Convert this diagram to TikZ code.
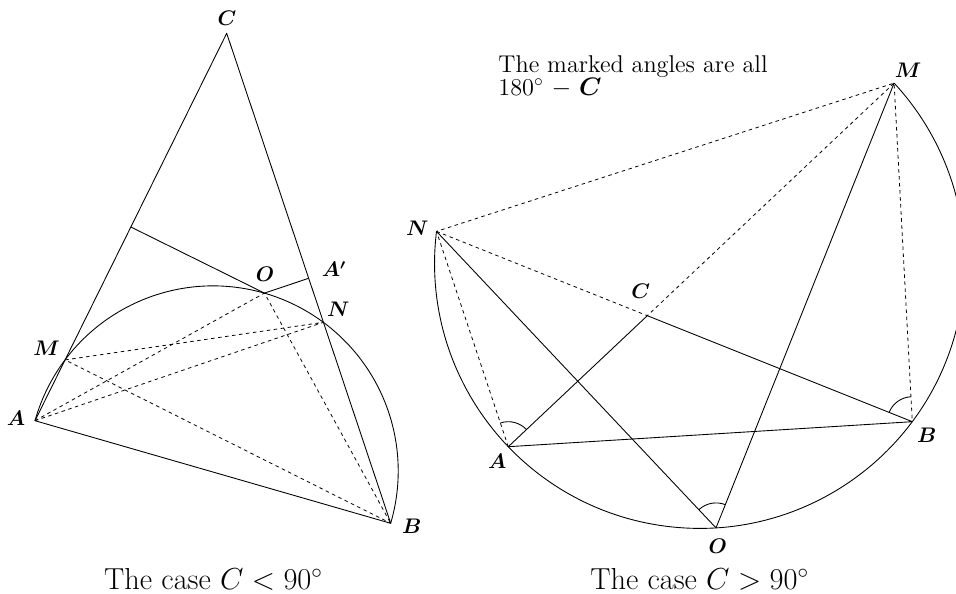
\documentclass[tikz,border=0pt]{standalone}
\usepackage{bm}
\usetikzlibrary{calc,angles}
\begin{document}
\begin{tikzpicture}[x=0.02cm, y=0.02cm, line width=0.5pt, line join=round,
  dashline/.style={dash pattern=on 2pt off 2pt, line width=0.45pt},
  lbl/.style={font=\fontsize{12}{14}\selectfont\boldmath, inner sep=0pt},
  caption/.style={font=\fontsize{17.28}{20}\selectfont, anchor=base, inner sep=0pt},
  note/.style={font=\fontsize{13.8}{13}\selectfont, anchor=north west, align=left, inner sep=0pt},
  anglemark/.style={draw, angle radius=5mm}]
\useasboundingbox (0,0) rectangle (956,594);
\clip (0,0) rectangle (956,594);
% the case C < 90
\coordinate (A) at (35,173.3);
\coordinate (B) at (390.7,70.7);
\coordinate (C) at (226.7,560.7);
\coordinate (O) at (264.45,300.9);
\coordinate (M) at (65.1,234.1);
\coordinate (N) at (323.4,271.7);
\coordinate (D) at ($(A)!0.5!(C)$);
\coordinate (Ap) at ($(B)!0.5!(C)$);
\draw (A) -- (B) -- (C) -- cycle;
\draw (D) -- (O) -- (Ap);
\draw (A) arc[start angle=164.23, end angle=-16.41, radius=185.1];
\draw[dashline] (A) -- (O) -- (B);
\draw[dashline] (A) -- (N) -- (M) -- (B);
\node[lbl] (lC) at (227,575.7) {$C$};
\node[lbl] (lA) at (16,175.7) {$A$};
\node[lbl] (lB) at (411.7,67.3) {$B$};
\node[lbl] (lM) at (46.7,245.7) {$M$};
\node[lbl] (lN) at (338.3,284.7) {$N$};
\node[lbl] (lO) at (265,320) {$O$};
\node[lbl] (lAp) at (334,325) {$A'$};
\node[caption] (cap1) at (213.5,4) {The case $C < 90^\circ$};
% the case C > 90
\coordinate (A2) at (508.3,147.3);
\coordinate (B2) at (912.3,172.3);
\coordinate (C2) at (647.3,278.3);
\coordinate (O2) at (716,66.1);
\coordinate (M2) at (894.1,510.9);
\coordinate (N2) at (436.5,362.6);
\draw (A2) -- (B2) -- (C2) -- cycle;
\draw (N2) -- (O2) -- (M2);
\draw (N2) arc[start angle=173.09, end angle=402.83, radius=265.1];
\draw[dashline] (A2) -- (N2) -- (M2) -- (B2);
\draw[dashline] (N2) -- (C2) -- (M2);
\pic[anglemark] {angle=C2--A2--N2};
\pic[anglemark] {angle=M2--B2--C2};
\pic[anglemark] {angle=M2--O2--N2};
\node[lbl] (lA2) at (497.3,132.3) {$A$};
\node[lbl] (lB2) at (926.7,159) {$B$};
\node[lbl] (lC2) at (640.7,302.3) {$C$};
\node[lbl] (lO2) at (717.7,47.3) {$O$};
\node[lbl] (lM2) at (908,523.3) {$M$};
\node[lbl] (lN2) at (417.3,365.7) {$N$};
\node[note] (note) at (498,538.5) {The marked angles are all\\180$^\circ$\ $-$\ $\bm{C}$};
\node[caption] (cap2) at (699.6,4) {The case $C > 90^\circ$};
\end{tikzpicture}
\end{document}
